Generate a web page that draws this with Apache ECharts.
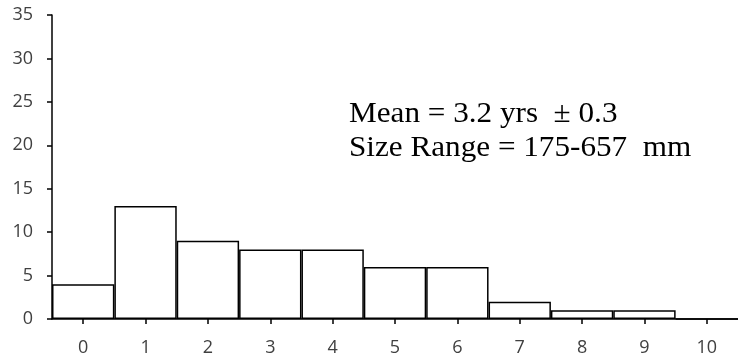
<!DOCTYPE html>
<html><head><meta charset="utf-8">
<script src="https://cdn.jsdelivr.net/npm/echarts@6/dist/echarts.min.js"></script>
<style>html,body{margin:0;padding:0;background:#fff}#c{width:738px;height:360px}</style>
</head><body><div id="c"></div>
<script>
const categories = ['0','1','2','3','4','5','6','7','8','9','10'];
const counts = [4, 13, 9, 8, 8, 6, 6, 2, 1, 1, 0];
const annotation = ['Mean = 3.2 yrs  \u00b1 0.3', 'Size Range = 175-657  mm'];

const chart = echarts.init(document.getElementById('c'));
chart.setOption({
  animation: false,
  grid: {left: 52, right: -8, top: 15, bottom: 41, containLabel: false},
  xAxis: {
    type: 'category', data: categories,
    axisLine: {lineStyle: {color: '#000', width: 1.5}},
    axisTick: {show: true, alignWithLabel: true, length: 5, lineStyle: {color: '#000', width: 1.5}},
    axisLabel: {color: '#404040', fontFamily: 'Open Sans', fontSize: 18, margin: 20}
  },
  yAxis: {
    type: 'value', min: 0, max: 35, interval: 5,
    axisLine: {show: true, lineStyle: {color: '#000', width: 1.5}},
    axisTick: {show: true, length: 5, lineStyle: {color: '#000', width: 1.5}},
    splitLine: {show: false},
    axisLabel: {color: '#404040', fontFamily: 'Open Sans', fontSize: 18, margin: 19}
  },
  series: [{
    type: 'bar', data: counts, barCategoryGap: '0%',
    itemStyle: {color: '#fff', borderColor: '#000', borderWidth: 1.5}
  }],
  graphic: [{
    type: 'text', x: 349, y: 97, scaleX: 1.075,
    style: {text: annotation.join('\n'), font: '29px "Liberation Serif"', fill: '#000', lineHeight: 34}
  }]
});
</script></body></html>
